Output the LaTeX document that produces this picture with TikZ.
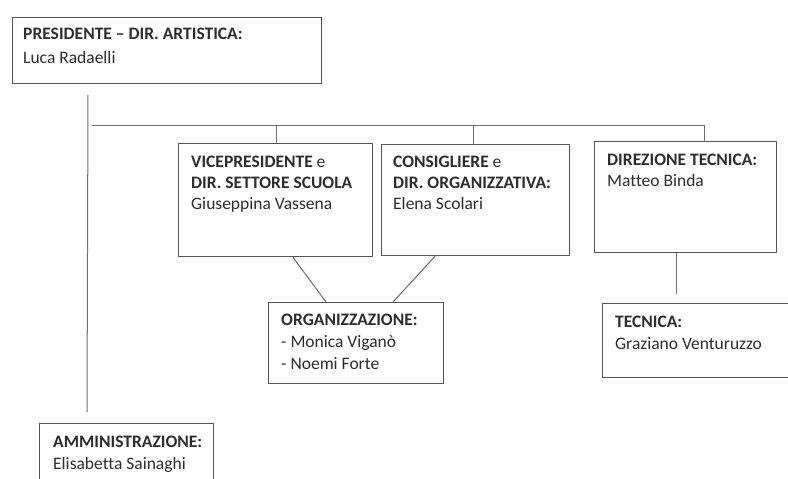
\documentclass[tikz,border=0pt]{standalone}
\usepackage{fontspec}
\setmainfont[Ligatures=NoCommon]{Carlito}
\definecolor{boxgray}{RGB}{85,85,85}
\definecolor{linegray}{RGB}{110,110,110}
\definecolor{txt}{RGB}{45,45,45}
\tikzset{
  orgbox/.style={draw=boxgray, line width=1.3pt, rectangle, inner sep=0pt, anchor=north west},
  orgtxt/.style={anchor=base west, inner sep=0pt, align=left, text=txt, font=\fontsize{17.5}{21}\selectfont},
  conn/.style={draw=linegray, line width=1pt}
}
\begin{document}
\begin{tikzpicture}[x=1pt,y=-1pt]
\useasboundingbox (0,0) rectangle (788,479);
\clip (0,0) rectangle (788,479);
\fill[white] (0,0) rectangle (788,479);
% boxes
\node[orgbox, minimum width=309pt, minimum height=66pt] (pres) at (12,17) {};
\node[orgbox, minimum width=194pt, minimum height=113pt] (vp) at (178,143) {};
\node[orgbox, minimum width=188pt, minimum height=111pt] (cons) at (381,144) {};
\node[orgbox, minimum width=182pt, minimum height=111pt] (dt) at (594,141) {};
\node[orgbox, minimum width=175pt, minimum height=81pt] (org) at (268,302) {};
\node[orgbox, minimum width=200pt, minimum height=74pt] (tec) at (602,303) {};
\node[orgbox, minimum width=174pt, minimum height=80pt] (amm) at (39,423) {};
% texts (anchor = baseline of the last line)
\node[orgtxt, font=\fontsize{17.5}{24}\selectfont] (tpres) at (23,63.5) {\textbf{PRESIDENTE – DIR. ARTISTICA:}\\Luca Radaelli};
\node[orgtxt] (tvp) at (191,209.5) {\textbf{VICEPRESIDENTE} e\\\textbf{DIR. SETTORE SCUOLA}\\Giuseppina Vassena};
\node[orgtxt] (tcons) at (393,209.5) {\textbf{CONSIGLIERE} e\\\textbf{DIR. ORGANIZZATIVA:}\\Elena Scolari};
\node[orgtxt] (tdt) at (607,186) {\textbf{DIREZIONE TECNICA:}\\Matteo Binda};
\node[orgtxt, font=\fontsize{17.5}{22}\selectfont] (torg) at (281,369) {\textbf{ORGANIZZAZIONE:}\\- Monica Viganò\\- Noemi Forte};
\node[orgtxt, font=\fontsize{17.5}{22}\selectfont] (ttec) at (615,349) {\textbf{TECNICA:}\\Graziano Venturuzzo};
\node[orgtxt, font=\fontsize{17.5}{22}\selectfont] (tamm) at (53,469) {\textbf{AMMINISTRAZIONE:}\\Elisabetta Sainaghi};
% connectors
\coordinate (ptop) at (88,95);
\coordinate (pbot) at (87,412);
\coordinate (busL) at (92,125);
\coordinate (busR) at (704,125);
\coordinate (bvp) at (276,125);
\coordinate (bcons) at (473,125);
\coordinate (tecTop) at (676,294);
\draw[conn] (ptop) -- (pbot);
\draw[conn] (busL) -- (busR);
\draw[conn] (bvp) -- (bvp |- vp.north);
\draw[conn] (bcons) -- (bcons |- cons.north);
\draw[conn] (busR) -- (busR |- dt.north);
\draw[conn] (dt.south -| tecTop) -- (tecTop);
\draw[conn] ([xshift=115pt]vp.south west) -- ([xshift=58pt]org.north west);
\draw[conn] ([xshift=54pt]cons.south west) -- ([xshift=125pt]org.north west);
\end{tikzpicture}
\end{document}
